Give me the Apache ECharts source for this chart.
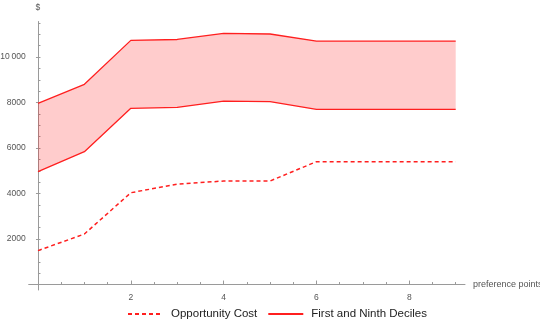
<!DOCTYPE html>
<html><head><meta charset="utf-8">
<script src="https://cdn.jsdelivr.net/npm/echarts@6/dist/echarts.min.js"></script>
<style>html,body{margin:0;padding:0;background:#fff}#c{width:540px;height:326px}</style>
</head><body><div id="c"></div>
<script>
const xValues = [0, 1, 2, 3, 4, 5, 6, 7, 8, 9];
const opportunityCost = [1490, 2220, 4035, 4410, 4550, 4550, 5400, 5400, 5400, 5400];
const firstDecile = [4960, 5840, 7745, 7785, 8060, 8035, 7700, 7700, 7700, 7700];
const ninthDecile = [7960, 8800, 10730, 10770, 11040, 11010, 10700, 10700, 10700, 10700];
const xLabelValues = [2, 4, 6, 8];
const xTickValues = [0.5, 1, 1.5, 2, 2.5, 3, 3.5, 4, 4.5, 5, 5.5, 6, 6.5, 7, 7.5, 8, 8.5, 9];
const yLabelValues = [2000, 4000, 6000, 8000, 10000];
const yTickValues = [500, 1000, 1500, 2000, 2500, 3000, 3500, 4000, 4500, 5000, 5500, 6000,
  6500, 7000, 7500, 8000, 8500, 9000, 9500, 10000, 10500, 11000, 11500];

const RED = '#ff1f1f';
const AX = '#9a9a9a';
const LBL = '#555';
const X_MIN = -0.2, X_MAX = 9.2, Y_MIN = -240, Y_MAX = 11560;
const pts = arr => xValues.map((x, i) => [x, arr[i]]);

const chart = echarts.init(document.getElementById('c'), null, {renderer: 'canvas'});
chart.setOption({
  animation: false,
  textStyle: {fontFamily: 'Liberation Sans'},
  grid: {left: 28.7, right: 75, top: 21.5, bottom: 36, containLabel: false, outerBoundsMode: 'none'},
  xAxis: [{
    type: 'value', min: X_MIN, max: X_MAX, position: 'bottom',
    name: 'preference points', nameLocation: 'end', nameGap: 8,
    nameTextStyle: {color: LBL, fontSize: 9, align: 'left', verticalAlign: 'middle'},
    axisLine: {onZero: true, lineStyle: {color: AX, width: 1}},
    axisTick: {show: true, inside: true, length: 2.5, customValues: xTickValues, lineStyle: {color: AX}},
    axisLabel: {customValues: xLabelValues, color: LBL, fontSize: 8.5, margin: 3},
    splitLine: {show: false}
  }, {
    type: 'value', min: X_MIN, max: X_MAX, position: 'bottom',
    axisLine: {show: false, onZero: true, onZeroAxisIndex: 0},
    axisTick: {show: true, inside: true, length: 4, customValues: xLabelValues, lineStyle: {color: AX}},
    axisLabel: {show: false}, splitLine: {show: false}
  }],
  yAxis: [{
    type: 'value', min: Y_MIN, max: Y_MAX, position: 'left',
    name: '$', nameLocation: 'end', nameGap: 9,
    nameTextStyle: {color: LBL, fontSize: 8.5, align: 'center'},
    axisLine: {show: true, onZero: true, lineStyle: {color: AX, width: 1}},
    axisTick: {show: true, inside: true, length: 2.5, customValues: yTickValues, lineStyle: {color: AX}},
    axisLabel: {customValues: yLabelValues, color: LBL, fontSize: 8.5, margin: 3,
      formatter: v => v >= 10000 ? String(v).replace(/(\d)(?=(\d{3})$)/, '$1\u2009') : String(v)},
    splitLine: {show: false}
  }, {
    type: 'value', min: Y_MIN, max: Y_MAX, position: 'left',
    axisLine: {show: false, onZero: true, onZeroAxisIndex: 0},
    axisTick: {show: true, inside: false, length: 2, customValues: yLabelValues, lineStyle: {color: AX}},
    axisLabel: {show: false}, splitLine: {show: false}
  }],
  legend: {
    bottom: 1, left: 122,
    itemWidth: 35, itemHeight: 10, itemGap: 10,
    itemStyle: {opacity: 0},
    textStyle: {color: '#222', fontSize: 11.5, fontFamily: 'Liberation Sans', padding: [0, 0, 0, 3]},
    data: ['Opportunity Cost', 'First and Ninth Deciles']
  },
  series: [
    {
      name: 'band', type: 'custom', data: [0], z: 1, silent: true,
      renderItem: function (params, api) {
        const upper = xValues.map((x, i) => api.coord([x, ninthDecile[i]]));
        const lower = xValues.map((x, i) => api.coord([x, firstDecile[i]])).reverse();
        return {
          type: 'polygon',
          shape: {points: upper.concat(lower)},
          style: {fill: 'rgba(255,0,0,0.2)', stroke: 'none'}
        };
      }
    },
    {
      name: 'First and Ninth Deciles', type: 'line', data: pts(firstDecile),
      symbol: 'none', lineStyle: {color: RED, width: 1.3}, itemStyle: {color: RED}, z: 3
    },
    {
      name: 'First and Ninth Deciles', type: 'line', data: pts(ninthDecile),
      symbol: 'none', lineStyle: {color: RED, width: 1.3}, itemStyle: {color: RED}, z: 3
    },
    {
      name: 'Opportunity Cost', type: 'line', data: pts(opportunityCost),
      symbol: 'none', lineStyle: {color: RED, width: 1.5, type: [4, 3]}, itemStyle: {color: RED}, z: 4
    }
  ]
});
</script></body></html>
